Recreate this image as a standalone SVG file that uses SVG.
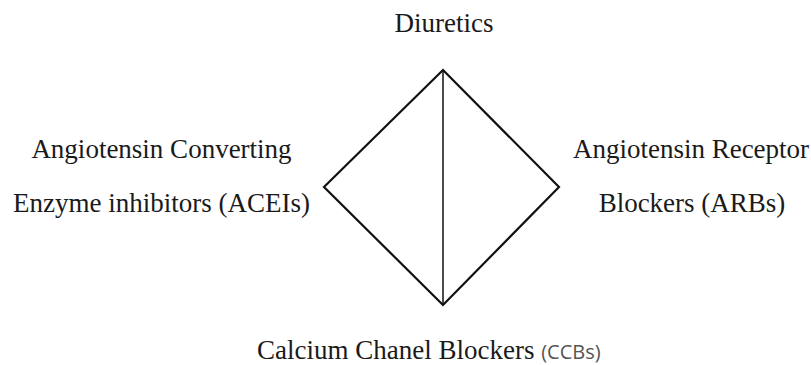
<svg xmlns="http://www.w3.org/2000/svg" width="811" height="365" viewBox="0 0 811 365">
  <style>
    .lbl { font-family: "Liberation Serif", "Times New Roman", serif; font-size: 27px; fill: #1a1a1a; }
    .abbr { font-family: "Open Sans", "Noto Sans", sans-serif; font-size: 20px; fill: #555555; }
    .edge { fill: none; stroke: #111111; stroke-width: 2.2; stroke-linejoin: miter; }
    .axis { fill: none; stroke: #111111; stroke-width: 1.5; }
  </style>
  <rect width="811" height="365" fill="#ffffff"/>

  <!-- diamond outline and the vertical split -->
  <g id="connectors">
    <polygon class="edge" points="443,70 559,187 443,305 324,187"/>
    <line class="axis" x1="443" y1="70" x2="443" y2="305"/>
  </g>

  <g id="diuretics">
    <text class="lbl" x="444" y="32" text-anchor="middle">Diuretics</text>
  </g>

  <g id="acei">
    <text class="lbl" x="161.5" y="158" text-anchor="middle">Angiotensin Converting</text>
    <text class="lbl" x="161.5" y="212" text-anchor="middle">Enzyme inhibitors (ACEIs)</text>
  </g>

  <g id="arb">
    <text class="lbl" x="691" y="158" text-anchor="middle">Angiotensin Receptor</text>
    <text class="lbl" x="692" y="212" text-anchor="middle">Blockers (ARBs)</text>
  </g>

  <g id="ccb">
    <text class="lbl" x="257" y="359">Calcium Chanel Blockers <tspan class="abbr">(CCBs)</tspan></text>
  </g>
</svg>
